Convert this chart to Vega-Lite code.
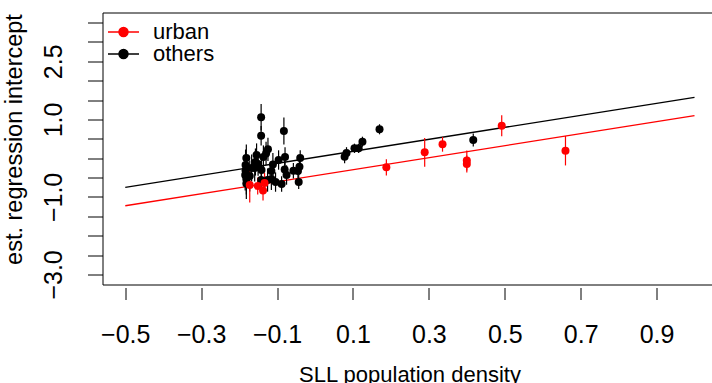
{
  "$schema": "https://vega.github.io/schema/vega-lite/v6.json",
  "width": 609.5,
  "height": 272,
  "autosize": {"type": "none"},
  "padding": {"left": 102.5, "top": 12.5, "right": 0, "bottom": 98.5},
  "background": "white",
  "config": {
    "view": {"stroke": "black", "strokeWidth": 1},
    "font": "Liberation Sans",
    "axis": {
      "labelFont": "Liberation Sans",
      "labelFontSize": 25,
      "labelColor": "black",
      "titleFont": "Liberation Sans",
      "titleFontSize": 22,
      "titleFontWeight": "normal",
      "titleColor": "black",
      "tickColor": "black",
      "tickWidth": 1,
      "domain": false,
      "grid": false,
      "labelOverlap": false,
      "labelFlush": false,
      "labelBound": false
    }
  },
  "datasets": {
    "fit": [
      {"x": -0.5, "y": -0.753, "group": "others"},
      {"x": 1.0, "y": 1.572, "group": "others"},
      {"x": -0.5, "y": -1.228, "group": "urban"},
      {"x": 1.0, "y": 1.097, "group": "urban"}
    ],
    "pts": [
      {"x": -0.142, "y": 1.056, "lo": 0.716, "hi": 1.396, "group": "others"},
      {"x": -0.142, "y": 0.58, "lo": 0.33, "hi": 0.83, "group": "others"},
      {"x": -0.082, "y": 0.702, "lo": 0.352, "hi": 1.052, "group": "others"},
      {"x": 0.17, "y": 0.746, "lo": 0.616, "hi": 0.876, "group": "others"},
      {"x": 0.125, "y": 0.425, "lo": 0.295, "hi": 0.555, "group": "others"},
      {"x": 0.115, "y": 0.255, "lo": 0.135, "hi": 0.375, "group": "others"},
      {"x": 0.104, "y": 0.255, "lo": 0.135, "hi": 0.375, "group": "others"},
      {"x": 0.083, "y": 0.134, "lo": -0.016, "hi": 0.284, "group": "others"},
      {"x": 0.078, "y": 0.038, "lo": -0.132, "hi": 0.208, "group": "others"},
      {"x": 0.417, "y": 0.469, "lo": 0.299, "hi": 0.639, "group": "others"},
      {"x": -0.039, "y": 0.004, "lo": -0.196, "hi": 0.204, "group": "others"},
      {"x": -0.041, "y": -0.22, "lo": -0.42, "hi": -0.02, "group": "others"},
      {"x": -0.045, "y": -0.331, "lo": -0.511, "hi": -0.151, "group": "others"},
      {"x": -0.043, "y": -0.616, "lo": -0.796, "hi": -0.436, "group": "others"},
      {"x": -0.057, "y": -0.324, "lo": -0.524, "hi": -0.124, "group": "others"},
      {"x": -0.079, "y": 0.03, "lo": -0.22, "hi": 0.28, "group": "others"},
      {"x": -0.08, "y": -0.293, "lo": -0.513, "hi": -0.073, "group": "others"},
      {"x": -0.088, "y": -0.667, "lo": -0.867, "hi": -0.467, "group": "others"},
      {"x": -0.111, "y": -0.164, "lo": -0.464, "hi": 0.136, "group": "others"},
      {"x": -0.115, "y": -0.331, "lo": -0.581, "hi": -0.081, "group": "others"},
      {"x": -0.115, "y": -0.538, "lo": -0.818, "hi": -0.258, "group": "others"},
      {"x": -0.124, "y": 0.229, "lo": -0.071, "hi": 0.529, "group": "others"},
      {"x": -0.129, "y": 0.121, "lo": -0.179, "hi": 0.421, "group": "others"},
      {"x": -0.136, "y": 0.03, "lo": -0.27, "hi": 0.33, "group": "others"},
      {"x": -0.142, "y": -0.564, "lo": -0.864, "hi": -0.264, "group": "others"},
      {"x": -0.154, "y": 0.082, "lo": -0.218, "hi": 0.382, "group": "others"},
      {"x": -0.157, "y": -0.099, "lo": -0.449, "hi": 0.251, "group": "others"},
      {"x": -0.159, "y": -0.254, "lo": -0.604, "hi": 0.096, "group": "others"},
      {"x": -0.181, "y": 0.004, "lo": -0.346, "hi": 0.354, "group": "others"},
      {"x": -0.183, "y": -0.176, "lo": -0.576, "hi": 0.224, "group": "others"},
      {"x": -0.183, "y": -0.319, "lo": -0.719, "hi": 0.081, "group": "others"},
      {"x": -0.184, "y": -0.435, "lo": -0.835, "hi": -0.035, "group": "others"},
      {"x": -0.181, "y": -0.538, "lo": -0.938, "hi": -0.138, "group": "others"},
      {"x": -0.181, "y": -0.654, "lo": -1.054, "hi": -0.254, "group": "others"},
      {"x": -0.172, "y": -0.461, "lo": -0.861, "hi": -0.061, "group": "others"},
      {"x": -0.167, "y": -0.254, "lo": -0.604, "hi": 0.096, "group": "others"},
      {"x": -0.141, "y": -0.306, "lo": -0.606, "hi": -0.006, "group": "others"},
      {"x": -0.15, "y": -0.151, "lo": -0.451, "hi": 0.149, "group": "others"},
      {"x": -0.096, "y": -0.047, "lo": -0.297, "hi": 0.203, "group": "others"},
      {"x": -0.075, "y": -0.435, "lo": -0.685, "hi": -0.185, "group": "others"},
      {"x": -0.104, "y": -0.616, "lo": -0.866, "hi": -0.366, "group": "others"},
      {"x": -0.125, "y": -0.564, "lo": -0.864, "hi": -0.264, "group": "others"},
      {"x": -0.172, "y": -0.693, "lo": -1.143, "hi": -0.243, "group": "urban"},
      {"x": -0.133, "y": -0.641, "lo": -0.901, "hi": -0.381, "group": "urban"},
      {"x": -0.137, "y": -0.835, "lo": -1.095, "hi": -0.575, "group": "urban"},
      {"x": -0.151, "y": -0.719, "lo": -0.939, "hi": -0.499, "group": "urban"},
      {"x": 0.188, "y": -0.236, "lo": -0.446, "hi": -0.026, "group": "urban"},
      {"x": 0.289, "y": 0.152, "lo": -0.218, "hi": 0.522, "group": "urban"},
      {"x": 0.336, "y": 0.358, "lo": 0.168, "hi": 0.548, "group": "urban"},
      {"x": 0.4, "y": -0.06, "lo": -0.32, "hi": 0.2, "group": "urban"},
      {"x": 0.4, "y": -0.151, "lo": -0.371, "hi": 0.069, "group": "urban"},
      {"x": 0.492, "y": 0.839, "lo": 0.569, "hi": 1.109, "group": "urban"},
      {"x": 0.66, "y": 0.193, "lo": -0.187, "hi": 0.573, "group": "urban"}
    ]
  },
  "layer": [
    {
      "data": {"name": "fit"},
      "mark": {"type": "line", "strokeWidth": 1.3},
      "encoding": {
        "x": {
          "field": "x", "type": "quantitative",
          "scale": {"domain": [-0.56, 1.0461], "nice": false, "zero": false},
          "axis": {
            "values": [-0.5, -0.3, -0.1, 0.1, 0.3, 0.5, 0.7, 0.9],
            "format": ".1f",
            "tickSize": 12,
            "offset": 3,
            "labelBaseline": "alphabetic",
            "labelPadding": 43,
            "title": "SLL population density",
            "titleX": 307,
            "titleY": 94,
            "titleBaseline": "alphabetic"
          }
        },
        "y": {
          "field": "y", "type": "quantitative",
          "scale": {"domain": [-3.26, 3.76], "nice": false, "zero": false},
          "axis": {
            "values": [-3, -2.5, -2, -1.5, -1, -0.5, 0, 0.5, 1, 1.5, 2, 2.5, 3, 3.5],
            "labelExpr": "(datum.value == -3 || datum.value == -1 || datum.value == 1 || datum.value == 2.5) ? format(datum.value, '.1f') : ''",
            "tickSize": 15,
            "labelAngle": -90,
            "labelAlign": "center",
            "labelBaseline": "alphabetic",
            "labelPadding": 26.5,
            "title": "est. regression intercept",
            "titleFontSize": 23.5,
            "titleX": -81.5,
            "titleY": 126.5,
            "titleBaseline": "alphabetic",
            "titleAlign": "center"
          }
        },
        "color": {
          "field": "group", "type": "nominal",
          "scale": {"domain": ["urban", "others"], "range": ["#ff0000", "#000000"]},
          "legend": {
            "orient": "none",
            "legendX": 4.5,
            "legendY": 9.5,
            "title": null,
            "symbolType": "M-1,0H1M-0.29,0A0.29,0.29,0,1,0,0.29,0A0.29,0.29,0,1,0,-0.29,0Z",
            "symbolSize": 961,
            "symbolStrokeWidth": 1.5,
            "symbolOpacity": 1,
            "labelFont": "Liberation Sans",
            "labelFontSize": 22,
            "labelColor": "black",
            "labelOffset": 13,
            "padding": 0,
            "rowPadding": 0,
            "clipHeight": 20,
            "encode": {
              "symbols": {
                "update": {
                  "fill": {"scale": "color", "field": "value"},
                  "stroke": {"scale": "color", "field": "value"},
                  "opacity": {"value": 1}
                }
              }
            }
          }
        }
      }
    },
    {
      "data": {"name": "pts"},
      "mark": {"type": "rule", "strokeWidth": 1.2},
      "encoding": {
        "x": {
          "field": "x", "type": "quantitative",
          "axis": {
            "values": [-0.5, -0.3, -0.1, 0.1, 0.3, 0.5, 0.7, 0.9],
            "format": ".1f",
            "tickSize": 12,
            "offset": 3,
            "labelBaseline": "alphabetic",
            "labelPadding": 43,
            "title": "SLL population density",
            "titleX": 307,
            "titleY": 94,
            "titleBaseline": "alphabetic"
          }
        },
        "y": {
          "field": "lo", "type": "quantitative",
          "axis": {
            "values": [-3, -2.5, -2, -1.5, -1, -0.5, 0, 0.5, 1, 1.5, 2, 2.5, 3, 3.5],
            "labelExpr": "(datum.value == -3 || datum.value == -1 || datum.value == 1 || datum.value == 2.5) ? format(datum.value, '.1f') : ''",
            "tickSize": 15,
            "labelAngle": -90,
            "labelAlign": "center",
            "labelBaseline": "alphabetic",
            "labelPadding": 26.5,
            "title": "est. regression intercept",
            "titleFontSize": 23.5,
            "titleX": -81.5,
            "titleY": 126.5,
            "titleBaseline": "alphabetic",
            "titleAlign": "center"
          }
        },
        "y2": {"field": "hi"},
        "color": {"field": "group", "type": "nominal"}
      }
    },
    {
      "data": {"name": "pts"},
      "mark": {"type": "circle", "size": 64, "opacity": 1},
      "encoding": {
        "x": {
          "field": "x", "type": "quantitative",
          "axis": {
            "values": [-0.5, -0.3, -0.1, 0.1, 0.3, 0.5, 0.7, 0.9],
            "format": ".1f",
            "tickSize": 12,
            "offset": 3,
            "labelBaseline": "alphabetic",
            "labelPadding": 43,
            "title": "SLL population density",
            "titleX": 307,
            "titleY": 94,
            "titleBaseline": "alphabetic"
          }
        },
        "y": {
          "field": "y", "type": "quantitative",
          "axis": {
            "values": [-3, -2.5, -2, -1.5, -1, -0.5, 0, 0.5, 1, 1.5, 2, 2.5, 3, 3.5],
            "labelExpr": "(datum.value == -3 || datum.value == -1 || datum.value == 1 || datum.value == 2.5) ? format(datum.value, '.1f') : ''",
            "tickSize": 15,
            "labelAngle": -90,
            "labelAlign": "center",
            "labelBaseline": "alphabetic",
            "labelPadding": 26.5,
            "title": "est. regression intercept",
            "titleFontSize": 23.5,
            "titleX": -81.5,
            "titleY": 126.5,
            "titleBaseline": "alphabetic",
            "titleAlign": "center"
          }
        },
        "color": {"field": "group", "type": "nominal"}
      }
    }
  ]
}
